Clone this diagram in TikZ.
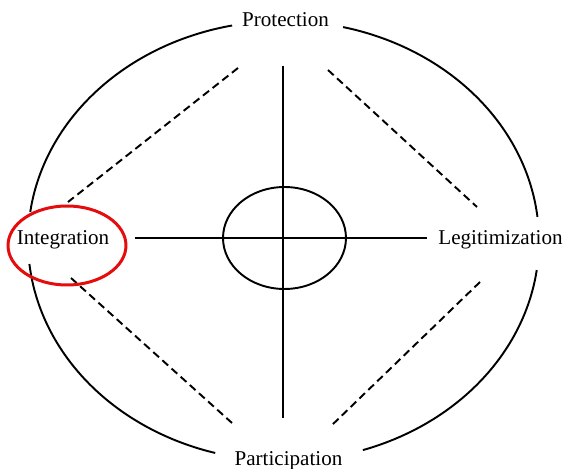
\documentclass[tikz,border=0pt]{standalone}
\usepackage{fontspec}
\setmainfont{Liberation Serif}
\usetikzlibrary{shapes.geometric}
\definecolor{hl}{RGB}{228,12,12}
\begin{document}
\begin{tikzpicture}[x=0.02cm,y=-0.02cm,
  line/.style={line width=1.1pt,black},
  dline/.style={line width=1.1pt,black,dash pattern=on 4.4pt off 2.6pt},
  lbl/.style={font=\fontsize{12}{14}\selectfont,inner sep=0pt,anchor=base},
  arcpart/.style={line width=1.1pt,black,smooth,samples=80,variable=\t}]
\useasboundingbox (0,0) rectangle (566,469);
\def\cx{283.5}\def\cy{241}\def\rx{255.5}\def\ry{220}
% outer ellipse, four arcs with gaps for the labels
\draw[arcpart,domain=101.6:172.4] plot ({\cx+\rx*cos(\t)},{\cy-\ry*sin(\t)});
\draw[arcpart,domain=76.5:6.3] plot ({\cx+\rx*cos(\t)},{\cy-\ry*sin(\t)});
\draw[arcpart,domain=186.0:254.5] plot ({\cx+\rx*cos(\t)},{\cy-\ry*sin(\t)});
\draw[arcpart,domain=288.1:352.4] plot ({\cx+\rx*cos(\t)},{\cy-\ry*sin(\t)});
% labels
\node[lbl] (prot) at (285.5,27) {Protection};
\node[lbl] (integ) at (63,245) {Integration};
\node[lbl] (legit) at (500.5,245) {Legitimization};
\node[lbl] (part) at (288.5,465.5) {Participation};
% cross
\coordinate (hl1) at (135,238);
\coordinate (hr1) at (427,238);
\coordinate (vt1) at (283,66);
\coordinate (vb1) at (283,418);
\draw[line] (hl1) -- (hr1);
\draw[line] (vt1) -- (vb1);
% centre ellipse
\node[draw,line width=1.1pt,ellipse,minimum width=2.46cm,minimum height=2.04cm,inner sep=0pt] (core) at (284.5,238) {};
% dashed diagonals
\coordinate (d1a) at (238,68);  \coordinate (d1b) at (68,202);
\coordinate (d2a) at (328,70);  \coordinate (d2b) at (477,207);
\coordinate (d3a) at (71,278);  \coordinate (d3b) at (232,423);
\coordinate (d4a) at (480,282); \coordinate (d4b) at (331,426);
\draw[dline] (d1a) -- (d1b);
\draw[dline] (d2a) -- (d2b);
\draw[dline] (d3a) -- (d3b);
\draw[dline] (d4a) -- (d4b);
% red highlight
\node[draw=hl,line width=1.7pt,ellipse,minimum width=2.36cm,minimum height=1.58cm,inner sep=0pt] (mark) at (67,245.5) {};
\end{tikzpicture}
\end{document}
